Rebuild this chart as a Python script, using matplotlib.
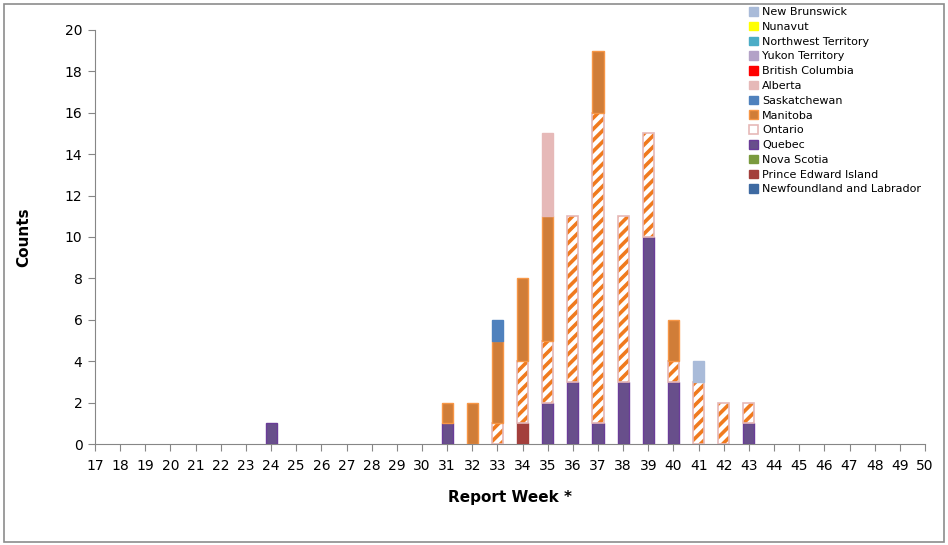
import numpy as np
import matplotlib
matplotlib.use("Agg")
import matplotlib.pyplot as plt
from matplotlib.patches import Patch, Rectangle

weeks = np.arange(17, 51)

# counts per province by report week (stack order bottom -> top)
provinces = ['Newfoundland and Labrador', 'Prince Edward Island', 'Nova Scotia', 'Quebec',
             'Ontario', 'Manitoba', 'Saskatchewan', 'Alberta', 'British Columbia',
             'Yukon Territory', 'Northwest Territory', 'Nunavut', 'New Brunswick']

pei = {34: 1}
quebec = {24: 1, 31: 1, 35: 2, 36: 3, 37: 1, 38: 3, 39: 10, 40: 3, 43: 1}
ontario = {33: 1, 34: 3, 35: 3, 36: 8, 37: 15, 38: 8, 39: 5, 40: 1, 41: 3, 42: 2, 43: 1}
manitoba = {31: 1, 32: 2, 33: 4, 34: 4, 35: 6, 37: 3, 40: 2}
saskatchewan = {33: 1}
alberta = {35: 4}
new_brunswick = {41: 1}

data = {
    'Newfoundland and Labrador': {},
    'Prince Edward Island': pei,
    'Nova Scotia': {},
    'Quebec': quebec,
    'Ontario': ontario,
    'Manitoba': manitoba,
    'Saskatchewan': saskatchewan,
    'Alberta': alberta,
    'British Columbia': {},
    'Yukon Territory': {},
    'Northwest Territory': {},
    'Nunavut': {},
    'New Brunswick': new_brunswick,
}

colors = {
    'Newfoundland and Labrador': ('#3e6aa2', '#3e6aa2'),
    'Prince Edward Island': ('#a33f3c', '#a33f3c'),
    'Nova Scotia': ('#7a9a3e', '#7a9a3e'),
    'Quebec': ('#684f8b', '#6a3c98'),
    'Ontario': ('white', '#e6b9b8'),
    'Manitoba': ('#d07d38', '#f79646'),
    'Saskatchewan': ('#4f81bd', '#4f81bd'),
    'Alberta': ('#e6b9b8', '#e6b9b8'),
    'British Columbia': ('#ff0000', '#ff0000'),
    'Yukon Territory': ('#b3a2c7', '#b3a2c7'),
    'Northwest Territory': ('#4bacc6', '#4bacc6'),
    'Nunavut': ('#ffff00', '#ffff00'),
    'New Brunswick': ('#a9bbd9', '#a9bbd9'),
}
hatch_col = '#f07a1e'

plt.rcParams['font.family'] = ['DejaVu Sans']
plt.rcParams['hatch.linewidth'] = 2.6

fig = plt.figure(figsize=(9.48, 5.45), dpi=100)
ax = fig.add_axes([95 / 948, 101 / 545, 830 / 948, 414 / 545])
fig.patches.append(Rectangle((4 / 948, 3 / 545), 940 / 948, 538 / 545, transform=fig.transFigure,
                             fill=False, edgecolor='#8c8c8c', linewidth=1.2))

bw = 0.44
bottom = np.zeros(len(weeks))
for p in provinces:
    vals = np.array([data[p].get(w, 0) for w in weeks], dtype=float)
    fc, ec = colors[p]
    m = vals > 0
    if not m.any():
        continue
    if p == 'Ontario':
        ax.bar(weeks[m], vals[m], bw, bottom=bottom[m], color='white', edgecolor=hatch_col,
               hatch='///', linewidth=0, zorder=2)
        ax.bar(weeks[m], vals[m], bw, bottom=bottom[m], fill=False, edgecolor=ec,
               linewidth=1.2, zorder=3)
    else:
        ax.bar(weeks[m], vals[m], bw, bottom=bottom[m], color=fc, edgecolor=ec,
               linewidth=1.0, zorder=3)
    bottom += vals

ax.set_xlim(17, 50)
ax.set_ylim(0, 20)
ax.set_xticks(weeks)
ax.set_yticks(np.arange(0, 21, 2))
ax.tick_params(axis='both', direction='out', length=5, color='#868686', labelsize=10, pad=4)
ax.tick_params(axis='x', pad=6)
for s in ['top', 'right']:
    ax.spines[s].set_visible(False)
for s in ['left', 'bottom']:
    ax.spines[s].set_color('#868686')
ax.set_xlabel('Report Week *', fontsize=11, fontweight='bold', labelpad=12)
ax.set_ylabel('Counts', fontsize=11, fontweight='bold', labelpad=24)

handles = []
for p in provinces[::-1]:
    fc, ec = colors[p]
    if p == 'Ontario':
        handles.append(Patch(facecolor='white', edgecolor='#e6b9b8', linewidth=1.2))
    else:
        handles.append(Patch(facecolor=fc, edgecolor=ec, linewidth=1.0))
fig.legend(handles, provinces[::-1], loc='upper left', bbox_to_anchor=(749 / 948, 1 - 7 / 545),
           frameon=False, fontsize=8, handlelength=0.8, handleheight=0.8, handletextpad=0.4,
           labelspacing=0.42, borderaxespad=0, borderpad=0)

fig.savefig('out.png', dpi=100)
